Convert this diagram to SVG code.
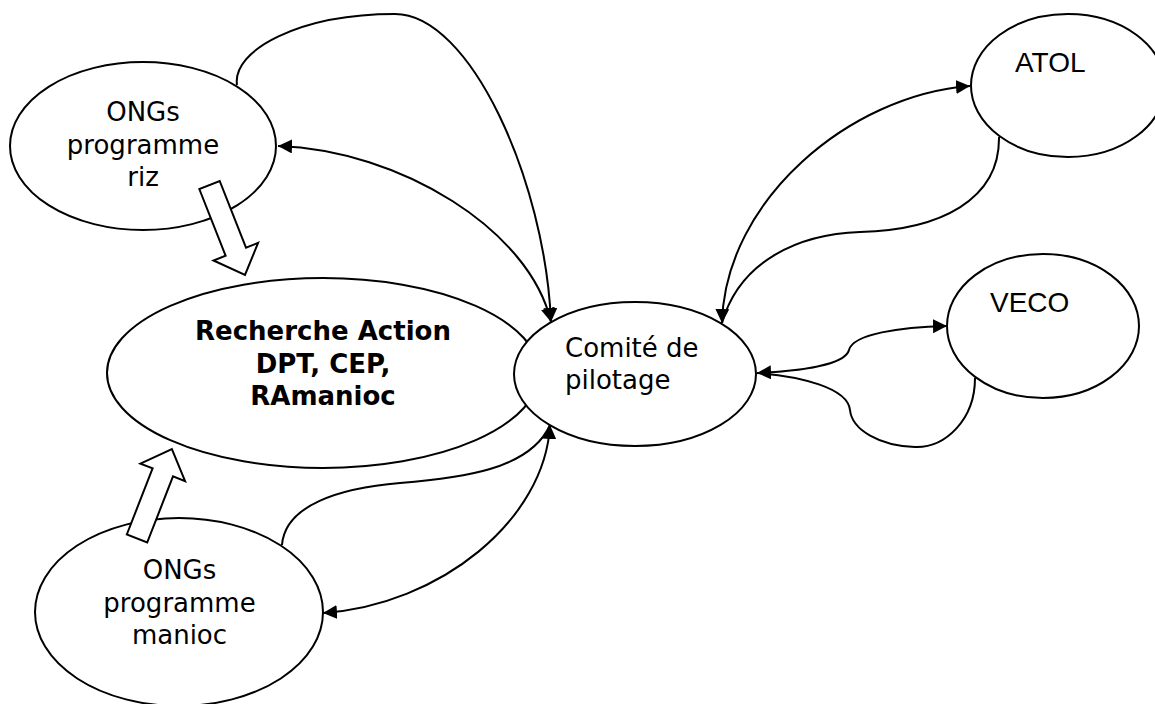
<svg xmlns="http://www.w3.org/2000/svg" width="1155" height="704" viewBox="0 0 1155 704">
<style>
.node{fill:#fff;stroke:#000;stroke-width:2}
.blk{fill:#fff;stroke:#000;stroke-width:2;stroke-linejoin:miter}
.c{fill:none;stroke:#000;stroke-width:2}
.t{font-family:"DejaVu Sans",Verdana,sans-serif;font-size:26px;fill:#000}
.b{font-weight:bold}
.a{font-family:"Liberation Sans",Arial,sans-serif;font-size:28px;fill:#000}
</style>
<defs>
<marker id="ah" markerWidth="16" markerHeight="16" refX="14" refY="7" orient="auto-start-reverse" markerUnits="userSpaceOnUse">
<path d="M0,0 L14,7 L0,14 z" fill="#000"/>
</marker>
</defs>
<g id="connectors">
<path class="c" d="M237,85 C232,50 300,14 395,14 C470,14 545,180 551,322" marker-end="url(#ah)"/>
<path class="c" d="M278,146 C400,150 530,230 551,322" marker-start="url(#ah)" marker-end="url(#ah)"/>
<path class="c" d="M722,323 C725,200 850,95 970,86" marker-start="url(#ah)" marker-end="url(#ah)"/>
<path class="c" d="M999,137 C1000,200 940,230 860,232 C800,234 740,260 722,323"/>
<path class="c" d="M757,373 C800,371 845,365 849,350 C853,334 900,327 947,326" marker-start="url(#ah)" marker-end="url(#ah)"/>
<path class="c" d="M975,378 C975,420 945,448 915,447 C880,446 852,430 850,410 C848,388 800,376 757,373"/>
<path class="c" d="M550,425 C545,520 440,605 323,613" marker-start="url(#ah)" marker-end="url(#ah)"/>
<path class="c" d="M282,545 C285,505 340,488 400,483 C460,478 530,470 550,425"/>
</g>
<g id="recherche">
<ellipse class="node" cx="323" cy="373" rx="216" ry="95"/>
<text class="t b" text-anchor="middle"><tspan x="323" y="340">Recherche Action</tspan><tspan x="323" y="372.5">DPT, CEP,</tspan><tspan x="323" y="405">RAmanioc</tspan></text>
</g>
<g id="comite">
<ellipse class="node" cx="635" cy="374" rx="121" ry="72"/>
<text class="t"><tspan x="565" y="357">Comité de</tspan><tspan x="565" y="389">pilotage</tspan></text>
</g>
<g id="ongs-riz">
<ellipse class="node" cx="143" cy="146" rx="133" ry="84"/>
<text class="t" text-anchor="middle"><tspan x="143" y="121">ONGs</tspan><tspan x="143" y="153.5">programme</tspan><tspan x="143" y="186">riz</tspan></text>
</g>
<g id="ongs-manioc">
<ellipse class="node" cx="179" cy="612" rx="144" ry="94"/>
<text class="t" text-anchor="middle"><tspan x="179.5" y="579">ONGs</tspan><tspan x="179.5" y="611.5">programme</tspan><tspan x="179.5" y="644">manioc</tspan></text>
</g>
<g id="atol">
<ellipse class="node" cx="1068" cy="85.5" rx="97" ry="71.5"/>
<text class="a" x="1015" y="72">ATOL</text>
</g>
<g id="veco">
<ellipse class="node" cx="1043" cy="326" rx="96" ry="72"/>
<text class="a" x="990" y="312">VECO</text>
</g>
<g id="block-arrows">
<polygon class="blk" points="199.3,189 225.6,255.7 213.5,260.5 245,275 258.1,242.9 246,247.7 219.7,181"/>
<polygon class="blk" points="126.8,534.5 152.6,468.4 140.4,463.7 171.9,449.1 185.1,481.1 173,476.4 147.2,542.5"/>
</g>
</svg>
